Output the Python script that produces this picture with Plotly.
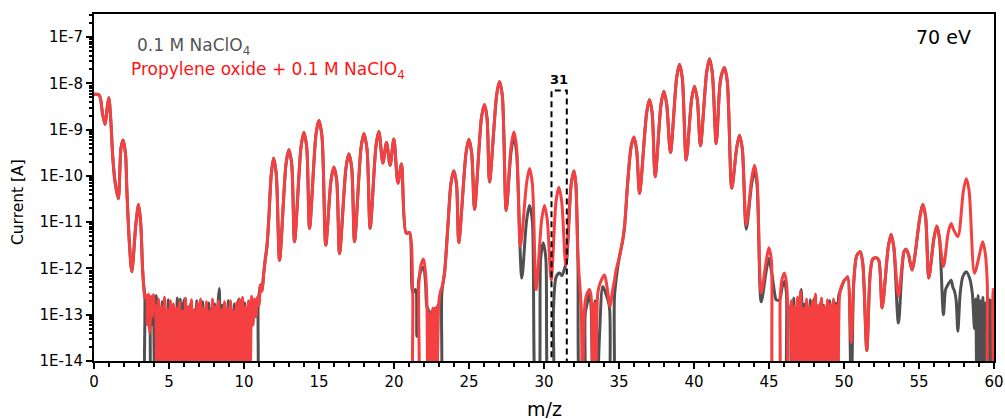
import numpy as np
import plotly.graph_objects as go

# ---------------- data: (m/z, current [A]) ----------------
# segments where both spectra coincide
shared_a = [(0.0, 5.8e-9), (0.35, 5.6e-9), (0.57, 2.2e-9), (0.74, 1.3e-9), (0.88, 3.0e-9),
            (0.99, 4.9e-9), (1.12, 1.6e-9), (1.25, 2.6e-10), (1.39, 8e-11), (1.62, 3.2e-11),
            (1.8, 4.0e-10), (1.94, 6.0e-10), (2.1, 3.0e-10), (2.19, 5e-11), (2.35, 4e-12),
            (2.52, 8.5e-13), (2.79, 9e-12), (2.97, 2.4e-11), (3.12, 9e-12), (3.23, 1.1e-12),
            (3.3, 4.8e-13), (3.39, 2.3e-13)]
shared_b = [(11.1, 4.4e-13), (11.2, 3.2e-13), (11.3, 7e-13), (11.4, 1.4e-12), (11.53, 3e-12),
            (11.66, 1.3e-11), (11.82, 1.1e-10), (11.97, 2.4e-10), (12.15, 1.1e-10), (12.37, 1.5e-12),
            (12.8, 1.8e-10), (12.99, 3.7e-10), (13.18, 1.8e-10), (13.37, 3.8e-12),
            (13.8, 4.2e-10), (13.99, 8.7e-10), (14.18, 4.2e-10), (14.37, 7.4e-12),
            (14.8, 8e-10), (14.99, 1.58e-9), (15.2, 7e-10), (15.45, 3.2e-12),
            (15.8, 8e-11), (15.99, 1.56e-10), (16.18, 8e-11), (16.37, 2.1e-12),
            (16.8, 1.5e-10), (16.99, 3.0e-10), (17.18, 1.5e-10), (17.37, 3.8e-12),
            (17.8, 4e-10), (17.99, 8.2e-10), (18.2, 3.8e-10), (18.41, 7.4e-12),
            (18.8, 4.5e-10), (18.99, 9.1e-10), (19.26, 1.9e-10), (19.5, 5.3e-10), (19.74, 1.7e-10),
            (19.99, 6.3e-10), (20.26, 7e-11), (20.5, 1.8e-10), (20.81, 5.8e-12), (21.03, 6.0e-12),
            (21.25, 3.0e-13)]
shared_c = [(23.37, 8e-13), (23.59, 8e-12), (23.8, 7e-11), (23.99, 1.3e-10), (24.17, 6.5e-11),
            (24.32, 3.6e-12), (24.8, 3.1e-10), (24.99, 6.2e-10), (25.18, 3.1e-10), (25.37, 1.9e-11),
            (25.83, 1.8e-9), (26.03, 3.5e-9), (26.2, 1.8e-9), (26.37, 7.4e-11),
            (26.84, 5.5e-9), (27.03, 1.1e-8), (27.22, 5.5e-9), (27.48, 1.8e-11)]
shared_d = [(35.03, 1.8e-12), (35.25, 4.1e-12), (35.37, 8e-12), (35.59, 8e-11), (35.81, 4.3e-10),
            (36.0, 6.9e-10), (36.18, 3.5e-10), (36.37, 4.2e-11),
            (36.84, 2.3e-9), (37.03, 4.5e-9), (37.21, 2.3e-9), (37.41, 9.6e-11),
            (37.8, 3.5e-9), (37.99, 6.8e-9), (38.18, 3.5e-9), (38.43, 3.2e-10),
            (38.84, 1.3e-8), (39.03, 2.6e-8), (39.22, 1.3e-8), (39.48, 2.2e-10),
            (39.84, 4.5e-9), (40.03, 8.7e-9), (40.22, 4.5e-9), (40.43, 4.5e-10),
            (40.84, 1.7e-8), (41.03, 3.4e-8), (41.22, 1.7e-8), (41.48, 5e-10),
            (41.72, 8.9e-9), (41.85, 1.6e-8), (42.03, 2.2e-8), (42.22, 1.1e-8), (42.52, 5.4e-11),
            (42.84, 3.9e-10), (43.03, 7.6e-10), (43.22, 3.9e-10)]
shared_e = [(50.65, 5e-13), (50.85, 1.9e-12), (51.08, 2.3e-12), (51.25, 1.3e-12), (51.52, 1.7e-14),
            (51.75, 8e-13), (51.92, 1.6e-12), (52.14, 1.7e-12), (52.32, 1.5e-12), (52.54, 1.4e-13),
            (52.95, 2.9e-12), (53.14, 5.5e-12), (53.32, 2.9e-12)]
shared_f = [(54.0, 2.3e-12), (54.14, 2.6e-12), (54.3, 2.0e-12), (54.54, 9.3e-13),
            (55.06, 1.3e-11), (55.25, 2.4e-11), (55.44, 1.3e-11), (55.65, 6.2e-13),
            (56.0, 4.6e-12), (56.19, 8.3e-12), (56.36, 4.6e-12)]

# Propylene oxide + 0.1 M NaClO4 (red) where it differs
red_noise_a = [(3.5, 2.6e-13), (3.56, 6e-14), (3.64, 2.8e-13), (3.72, 4e-14), (3.8, 2.5e-13),
               (3.88, 9e-14), (3.96, 2.7e-13), (4.04, 1.2e-13), (4.1, 1.6e-13), (4.2, 1e-15),
               (4.3, 2.2e-13), (4.4, 1e-15), (4.5, 1.5e-13), (4.6, 1e-15), (4.7, 2.4e-13), (4.8, 1e-15),
               (4.9, 1.3e-13), (5.0, 1e-15), (5.1, 2.0e-13), (5.2, 1e-15), (5.3, 1.7e-13), (5.4, 1e-15),
               (5.5, 1.4e-13), (5.6, 1e-15), (5.7, 1.9e-13), (5.8, 1e-15), (5.9, 1.2e-13), (6.0, 1e-15),
               (6.1, 2.3e-13), (6.2, 1e-15), (6.3, 1.5e-13), (6.4, 1e-15), (6.5, 2.1e-13), (6.6, 1e-15),
               (6.7, 1.3e-13), (6.8, 1e-15), (6.9, 1.8e-13), (7.0, 1e-15), (7.1, 2.2e-13), (7.2, 1e-15),
               (7.3, 1.4e-13), (7.4, 1e-15), (7.5, 1.9e-13), (7.6, 1e-15), (7.7, 1.2e-13), (7.8, 1e-15),
               (7.9, 2.2e-13), (8.0, 1e-15), (8.1, 1.5e-13), (8.2, 1e-15), (8.3, 2.0e-13), (8.4, 1e-15),
               (8.5, 1.3e-13), (8.6, 1e-15), (8.7, 1.9e-13), (8.8, 1e-15), (8.9, 1.4e-13), (9.0, 1e-15),
               (9.1, 2.0e-13), (9.2, 1e-15), (9.3, 1.2e-13), (9.4, 1e-15), (9.5, 1.8e-13), (9.6, 1e-15),
               (9.7, 2.2e-13), (9.8, 1e-15), (9.9, 2.4e-13), (10.0, 1e-15), (10.1, 1.5e-13), (10.2, 1e-15),
               (10.3, 2.0e-13), (10.4, 1e-15), (10.5, 2.5e-13), (10.6, 6e-14), (10.7, 2.2e-13),
               (10.8, 9e-14), (10.9, 2.4e-13), (11.0, 1.6e-13)]
red_b2 = [(21.37, 1e-15), (21.55, 1e-15), (21.65, 4.1e-13), (21.8, 1.2e-12), (21.97, 1.6e-12),
          (22.1, 8e-13), (22.19, 2.1e-13), (22.26, 1e-15), (22.37, 1.1e-13), (22.48, 1e-15),
          (22.59, 1.4e-13), (22.7, 1e-15), (22.77, 1.4e-13), (22.86, 1e-15), (22.97, 1.55e-13),
          (23.08, 3e-13), (23.21, 4.1e-13)]
red_c2 = [(27.8, 4.2e-10), (27.99, 8.9e-10), (28.17, 4.2e-10), (28.43, 3e-12),
          (28.84, 7e-11), (29.03, 1.45e-10), (29.22, 7e-11), (29.48, 3.5e-13),
          (29.84, 1.1e-11), (30.03, 2.3e-11), (30.22, 1.1e-11), (30.48, 5.6e-13),
          (30.8, 2.8e-11), (30.99, 5.7e-11), (31.18, 2.8e-11), (31.45, 1.2e-12),
          (31.81, 6.5e-11), (32.0, 1.3e-10), (32.12, 6.9e-11), (32.26, 1.8e-12),
          (32.48, 1.5e-13), (32.55, 1e-15), (32.7, 1.3e-13), (32.81, 2.5e-13), (33.03, 3.5e-13),
          (33.14, 2.5e-13), (33.25, 1e-15), (33.36, 1.8e-13), (33.45, 1e-15), (33.59, 3e-13),
          (33.74, 4.8e-13), (34.03, 7.2e-13), (34.2, 4e-13), (34.41, 1.5e-13), (34.55, 3e-13),
          (34.7, 5.6e-13), (34.81, 9.3e-13)]
red_d2 = [(43.48, 8.7e-12), (43.84, 8.5e-11), (44.03, 1.7e-10), (44.2, 8.5e-11), (44.48, 3e-13),
          (44.82, 1.5e-12), (44.99, 2.8e-12), (45.16, 1.5e-12), (45.37, 1e-15),
          (45.58, 1e-15), (45.75, 2.5e-13), (45.88, 6e-13), (46.03, 8e-13), (46.16, 5e-13),
          (46.25, 1.5e-13), (46.32, 1e-15),
          (46.4, 1e-15), (46.5, 2.0e-13), (46.6, 1e-15), (46.7, 1.5e-13), (46.8, 1e-15), (46.9, 2.4e-13),
          (47.0, 1e-15), (47.1, 3.2e-13), (47.2, 1e-15), (47.3, 1.4e-13), (47.4, 1e-15), (47.5, 2.2e-13),
          (47.6, 1e-15), (47.7, 1.5e-13), (47.8, 1e-15), (47.9, 2.0e-13), (48.0, 1e-15), (48.1, 2.8e-13),
          (48.2, 1e-15), (48.3, 1.6e-13), (48.4, 1e-15), (48.5, 2.3e-13), (48.6, 1e-15), (48.7, 1.5e-13),
          (48.8, 1e-15), (48.9, 2.1e-13), (49.0, 1e-15), (49.1, 1.7e-13), (49.2, 1e-15), (49.3, 2.2e-13),
          (49.4, 1e-15), (49.5, 1.6e-13), (49.6, 1e-15), (49.7, 2.5e-13), (49.81, 4e-13),
          (50.03, 5.6e-13), (50.15, 6e-13), (50.25, 6.6e-13), (50.48, 2.5e-14)]
red_e2 = [(53.63, 2.5e-13)]
red_f2 = [(56.63, 1.1e-12), (56.95, 6e-12), (57.14, 9.4e-12), (57.3, 7e-12), (57.59, 4.9e-12),
          (57.96, 4.8e-11), (58.15, 8.7e-11), (58.34, 4.8e-11), (58.7, 7.9e-13),
          (59.06, 2.2e-12), (59.25, 3.8e-12), (59.42, 2.1e-12), (59.55, 5e-13), (59.7, 1e-15),
          (59.85, 1e-15), (59.95, 3.5e-13), (60.0, 3.5e-13)]

# 0.1 M NaClO4 (grey) where it differs
gray_noise_a = [(3.45, 1e-15), (3.55, 1e-15), (3.65, 1e-15), (3.75, 1.5e-13), (3.85, 6e-14),
                (3.95, 2.4e-13), (4.05, 1e-15), (4.15, 2.6e-13), (4.25, 1e-15), (4.35, 1.4e-13),
                (4.45, 1e-15), (4.55, 1.9e-13), (4.65, 1e-15), (4.75, 1.3e-13), (4.85, 1e-15),
                (4.95, 2.1e-13), (5.05, 1e-15), (5.15, 1.5e-13), (5.25, 1e-15), (5.35, 1.2e-13),
                (5.45, 1e-15), (5.55, 2.3e-13), (5.65, 1e-15), (5.75, 2.2e-13), (5.85, 1e-15),
                (5.95, 1.6e-13), (6.05, 2.2e-13), (6.15, 1e-15), (6.25, 1.4e-13), (6.35, 1e-15),
                (6.45, 1.8e-13), (6.55, 1e-15), (6.65, 1.2e-13), (6.75, 1e-15), (6.85, 2.0e-13),
                (6.95, 1e-15), (7.05, 1.5e-13), (7.15, 1e-15), (7.25, 1.9e-13), (7.35, 1e-15),
                (7.45, 1.3e-13), (7.55, 1e-15), (7.65, 1.8e-13), (7.75, 1e-15), (7.85, 1.4e-13),
                (7.95, 1e-15), (8.05, 1.7e-13), (8.15, 1e-15), (8.25, 1.3e-13), (8.35, 3.7e-13),
                (8.45, 1e-15), (8.55, 1.6e-13), (8.65, 1e-15), (8.75, 1.4e-13), (8.85, 1e-15),
                (8.95, 2.0e-13), (9.05, 1e-15), (9.15, 1.3e-13), (9.25, 1e-15), (9.35, 1.7e-13),
                (9.45, 1e-15), (9.55, 1.2e-13), (9.65, 2.2e-13), (9.75, 1e-15), (9.85, 1.5e-13),
                (9.95, 1e-15), (10.05, 1.8e-13), (10.15, 1e-15), (10.25, 1.4e-13), (10.35, 1e-15),
                (10.45, 2.0e-13), (10.55, 1e-15), (10.65, 1e-15), (10.75, 1e-15), (10.85, 1e-15),
                (10.95, 1.9e-13), (11.05, 3.5e-13)]
gray_b2 = [(21.43, 3.5e-13), (21.52, 3.4e-14), (21.65, 5.6e-13), (21.8, 9e-13), (21.97, 1.07e-12),
           (22.1, 5e-13), (22.19, 1.5e-13),
           (22.32, 1.2e-13), (22.42, 5e-14), (22.53, 1.2e-13), (22.64, 3e-14), (22.75, 1.4e-13),
           (22.86, 8e-14), (22.92, 1.6e-13), (23.0, 1e-15), (23.1, 1e-15), (23.19, 3e-13)]
gray_c2 = [(27.8, 3.2e-10), (27.99, 6.9e-10), (28.17, 3.2e-10), (28.52, 6.2e-13),
           (28.84, 1.1e-11), (29.03, 2.3e-11), (29.22, 1.1e-11), (29.5, 1e-15), (29.6, 1e-15),
           (29.78, 1.7e-12), (29.95, 3.6e-12), (30.12, 1.7e-12), (30.37, 1e-15), (30.55, 1e-15),
           (30.63, 1.3e-13), (30.81, 6.6e-13), (31.03, 8e-13), (31.2, 7e-13), (31.37, 1e-12),
           (31.5, 1.4e-12), (31.81, 6.5e-11), (32.0, 1.3e-10), (32.12, 6.9e-11),
           (32.26, 1.8e-12), (32.48, 1e-15), (32.64, 1e-15), (32.75, 1.07e-13), (32.92, 2e-13),
           (33.03, 3e-13), (33.14, 1.5e-13), (33.25, 1e-15), (33.4, 2e-13), (33.52, 1e-15),
           (33.7, 3.5e-14), (33.92, 4.1e-13), (34.1, 3e-13), (34.36, 1.5e-13), (34.5, 1e-15),
           (34.6, 1e-15), (34.7, 2.5e-13), (34.92, 1.1e-12)]
gray_d2 = [(43.48, 7e-12), (43.84, 6.5e-11), (44.03, 1.3e-10), (44.2, 6.5e-11), (44.48, 1.9e-13),
           (44.82, 9e-13), (44.99, 1.66e-12), (45.16, 9e-13), (45.37, 3e-13),
           (45.48, 2.1e-13), (45.7, 2.1e-13), (45.88, 4e-13), (46.03, 5.2e-13), (46.16, 3e-13),
           (46.25, 1e-15),
           (46.35, 1e-15), (46.45, 1.6e-13), (46.55, 1e-15), (46.65, 2.3e-13), (46.75, 1e-15),
           (46.85, 1.4e-13), (46.95, 1e-15), (47.05, 1.9e-13), (47.15, 3.5e-13), (47.25, 1e-15),
           (47.35, 1.7e-13), (47.45, 1e-15), (47.55, 1.5e-13), (47.65, 1e-15), (47.75, 2.1e-13),
           (47.85, 1e-15), (47.95, 1.3e-13), (48.05, 2.4e-13), (48.15, 1e-15), (48.25, 1.5e-13),
           (48.35, 1e-15), (48.45, 1.9e-13), (48.55, 1e-15), (48.65, 1.6e-13), (48.75, 1e-15),
           (48.85, 1.3e-13), (48.95, 1e-15), (49.05, 2.0e-13), (49.15, 1e-15), (49.25, 1.4e-13),
           (49.35, 1e-15), (49.45, 1.8e-13), (49.55, 1e-15), (49.65, 2.6e-13), (49.75, 3.3e-13),
           (49.85, 4e-13), (50.03, 5.6e-13), (50.15, 6e-13), (50.25, 6.6e-13), (50.48, 1e-15)]
gray_e2 = [(53.63, 6.6e-14)]
gray_f2 = [(56.63, 1e-13), (56.77, 3.5e-13), (56.92, 4.4e-13), (57.14, 5.6e-13), (57.25, 4e-13),
           (57.37, 3.2e-13), (57.48, 2e-13), (57.59, 4.4e-14), (57.75, 3e-13), (57.92, 6.6e-13),
           (58.15, 8.5e-13), (58.37, 6.2e-13), (58.55, 3e-13), (58.7, 5e-14), (58.78, 2.2e-13),
           (58.86, 1e-15), (58.94, 2.6e-13), (59.02, 1e-15), (59.1, 2.0e-13), (59.18, 1e-15),
           (59.26, 2.4e-13), (59.34, 1e-15), (59.42, 1.8e-13), (59.5, 1e-15), (59.58, 2.5e-13),
           (59.66, 1e-15), (59.74, 2.1e-13), (59.82, 1e-15), (59.9, 1.9e-13), (60.0, 2.2e-13)]

# annotation box around m/z 31
box_mz = [30.5, 31.52]
box_top = 7.0e-9
box_label = "31"

y_tickvals = [1e-14, 1e-13, 1e-12, 1e-11, 1e-10, 1e-9, 1e-8, 1e-7]
y_ticktext = ["1E-14", "1E-13", "1E-12", "1E-11", "1E-10", "1E-9", "1E-8", "1E-7"]
x_tickvals = list(range(0, 61, 5))

# ---------------- assemble series ----------------
red_pts = (shared_a + red_noise_a + shared_b + red_b2 + shared_c + red_c2 + shared_d
           + red_d2 + shared_e + red_e2 + shared_f + red_f2)
gray_pts = (shared_a + gray_noise_a + shared_b + gray_b2 + shared_c + gray_c2 + shared_d
            + gray_d2 + shared_e + gray_e2 + shared_f + gray_f2)
red_mz, red_cur = zip(*red_pts)
gray_mz, gray_cur = zip(*gray_pts)

RED = "rgb(244,64,64)"
GRAY = "rgb(80,80,80)"
FONT = "DejaVu Sans"

fig = go.Figure()
fig.add_trace(go.Scatter(x=gray_mz, y=gray_cur, mode="lines", name="0.1 M NaClO4",
                         line=dict(color=GRAY, width=3, shape="spline", smoothing=0.8)))
fig.add_trace(go.Scatter(x=red_mz, y=red_cur, mode="lines", name="Propylene oxide + 0.1 M NaClO4",
                         line=dict(color=RED, width=3, shape="spline", smoothing=0.8)))
fig.add_trace(go.Scatter(x=[box_mz[0], box_mz[0], box_mz[1], box_mz[1]],
                         y=[1e-15, box_top, box_top, 1e-15], mode="lines",
                         line=dict(color="black", width=2, dash="6px,4px"), hoverinfo="skip"))

minor_y = [m * 10.0 ** e for e in range(-14, -6) for m in range(2, 10)]

fig.update_layout(
    width=1005, height=419,
    margin=dict(l=94, r=11, t=14, b=58, autoexpand=False),
    plot_bgcolor="white", paper_bgcolor="white",
    showlegend=False,
    font=dict(family=FONT, color="black"),
    xaxis=dict(range=[0, 60], showline=True, linecolor="black", linewidth=2, mirror=True,
               automargin=False,
               ticks="outside", ticklen=6, tickwidth=2, tickcolor="black",
               tickmode="array", tickvals=x_tickvals,
               tickfont=dict(family=FONT, size=15, color="black"),
               minor=dict(ticks="outside", ticklen=3.5, tickwidth=1.5, tickcolor="black", dtick=1),
               showgrid=False, zeroline=False),
    yaxis=dict(type="log", range=[-14, -6.5], showline=True, linecolor="black", linewidth=2,
               mirror=True, automargin=False,
               ticks="outside", ticklen=6, tickwidth=2, tickcolor="black",
               tickmode="array", tickvals=y_tickvals, ticktext=y_ticktext,
               tickfont=dict(family=FONT, size=15, color="black"),
               minor=dict(ticks="outside", ticklen=3.5, tickwidth=1.5, tickcolor="black",
                          tickmode="array", tickvals=minor_y),
               showgrid=False, zeroline=False),
    annotations=[
        dict(text="m/z", xref="paper", yref="paper", x=0.5, y=-0.138, xanchor="center",
             yanchor="middle", showarrow=False, font=dict(family=FONT, size=19)),
        dict(text="Current [A]", xref="paper", yref="paper", x=-0.0844, y=0.458, textangle=-90,
             xanchor="center", yanchor="middle", showarrow=False, font=dict(family=FONT, size=15.5)),
        dict(text="0.1 M NaClO<sub>4</sub>", xref="paper", yref="paper", x=0.045, y=0.906,
             xanchor="left", yanchor="middle", showarrow=False,
             font=dict(family=FONT, size=17, color="rgb(85,85,85)")),
        dict(text="Propylene oxide + 0.1 M NaClO<sub>4</sub>", xref="paper", yref="paper",
             x=0.039, y=0.837, xanchor="left", yanchor="middle", showarrow=False,
             font=dict(family=FONT, size=17, color="rgb(255,20,20)")),
        dict(text="70 eV", xref="paper", yref="paper", x=0.977, y=0.933, xanchor="right",
             yanchor="middle", showarrow=False, font=dict(family=FONT, size=19, color="black")),
        dict(text="<b>" + box_label + "</b>", xref="x", yref="y", x=np.mean(box_mz),
             y=np.log10(box_top) + 0.25, xanchor="center", yanchor="middle", showarrow=False,
             font=dict(family=FONT, size=13, color="black")),
    ],
)

fig.write_html("out.html", config={"displayModeBar": False},
               post_script="document.body.style.margin='0';")
